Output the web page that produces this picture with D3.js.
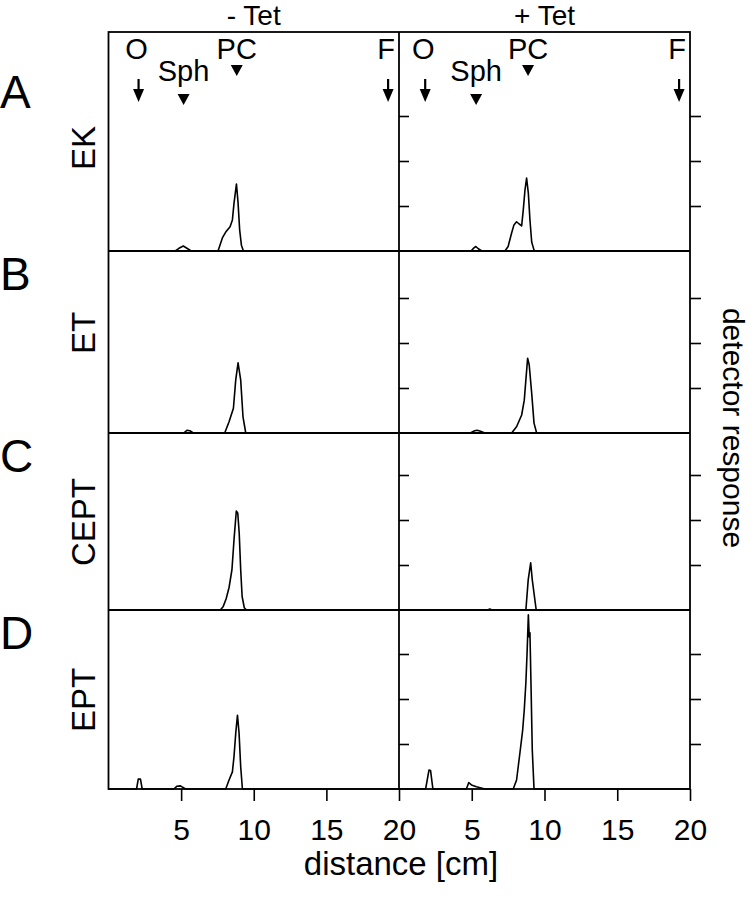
<!doctype html>
<html>
<head>
<meta charset="utf-8">
<script src="https://cdnjs.cloudflare.com/ajax/libs/d3/7.8.5/d3.min.js"></script>
<style>
  body { margin: 0; background: #fff; }
  text { font-family: "Liberation Sans", Arial, Helvetica, sans-serif; fill: #000; }
</style>
</head>
<body>
<svg id="chart" width="752" height="900"></svg>
<script>
// tick labels / names
var distanceTicks = [5, 10, 15, 20];
var responseTicks = [1, 2, 3];
var columnTitles = ["- Tet", "+ Tet"];
var rowLetters = ["A", "B", "C", "D"];
var rowNames = ["EK", "ET", "CEPT", "EPT"];
var markerNames = ["O", "Sph", "PC", "F"];
var markerKinds = ["arrow", "tri", "tri", "arrow"];
var markerMinus = [2.07, 5.17, 8.83, 19.25];
var markerPlus = [1.8, 5.3, 8.87, 19.25];

// traces: [distance cm, detector response]
var ekMinus = [[0,0],[4.6,0],[4.85,0.06],[5.15,0.11],[5.45,0.05],[5.7,0],[7.54,0],[7.84,0.29],[8.07,0.42],
  [8.37,0.54],[8.53,0.69],[8.64,1.06],[8.81,1.49],[8.92,1.07],[9.03,0.47],[9.15,0.13],[9.29,0],[20,0]];
var ekPlus = [[0,0],[4.95,0],[5.15,0.07],[5.28,0.1],[5.45,0.05],[5.7,0],[7.28,0],[7.5,0.1],[7.74,0.4],[7.9,0.58],
  [8.08,0.65],[8.26,0.6],[8.43,0.56],[8.54,0.91],[8.66,1.36],[8.77,1.62],[8.89,1.28],[9.0,0.69],[9.12,0.2],
  [9.28,0.02],[9.4,0],[20,0]];
var etMinus = [[0,0],[5.17,0],[5.4,0.06],[5.6,0.05],[5.84,0],[8.0,0],[8.3,0.25],[8.6,0.55],[8.76,1.18],
  [8.92,1.56],[9.1,1.18],[9.26,0.36],[9.45,0],[20,0]];
var etPlus = [[0,0],[4.9,0],[5.2,0.05],[5.37,0.06],[5.6,0.04],[5.9,0],[7.74,0],[8.08,0.14],[8.43,0.4],
  [8.61,0.73],[8.72,1.18],[8.84,1.66],[8.95,1.51],[9.12,0.88],[9.28,0.22],[9.46,0],[20,0]];
var ceptMinus = [[0,0],[7.7,0],[7.9,0.08],[8.1,0.25],[8.3,0.5],[8.5,0.9],[8.65,1.6],[8.8,2.2],[8.9,2.15],
  [9.0,1.7],[9.1,0.9],[9.2,0.3],[9.35,0.05],[9.5,0],[20,0]];
var ceptPlus = [[0,0],[6.1,0],[6.24,0.02],[6.4,0],[8.72,0],[8.88,0.67],[9.05,1.05],[9.16,0.67],[9.43,0],[20,0]];
var eptMinus = [[0,0],[1.93,0],[2.05,0.22],[2.2,0.22],[2.32,0],[4.5,0],[4.7,0.06],[4.95,0.07],[5.31,0],
  [8.07,0],[8.3,0.2],[8.53,0.38],[8.64,0.72],[8.76,1.24],[8.88,1.64],[8.99,1.24],[9.1,0.5],[9.22,0],[20,0]];
var eptPlus = [[0,0],[1.83,0],[2.06,0.42],[2.17,0.41],[2.33,0],[4.63,0],[4.79,0.14],[4.98,0.09],[5.32,0.05],
  [5.9,0],[7.85,0],[8.08,0.2],[8.31,0.8],[8.5,1.31],[8.61,1.76],[8.72,2.36],[8.81,3.09],[8.89,3.87],
  [8.95,3.38],[9.0,3.47],[9.07,2.36],[9.16,0.87],[9.28,0],[20,0]];

var traces = [[ekMinus, ekPlus], [etMinus, etPlus], [ceptMinus, ceptPlus], [eptMinus, eptPlus]];

var svg = d3.select("#chart");

// layout
var rowTop = [32, 251, 433, 610];
var rowBottom = [251, 433, 610, 789];
var pxPerUnit = 45;
var xScales = [
  d3.scaleLinear().domain([0, 20]).range([108.5, 399]),
  d3.scaleLinear().domain([0, 20]).range([399, 690])
];

// column titles
columnTitles.forEach(function(t, c) {
  svg.append("text")
    .attr("x", (xScales[c].range()[0] + xScales[c].range()[1]) / 2)
    .attr("y", 25)
    .attr("text-anchor", "middle")
    .style("font-size", "28px")
    .text(t);
});

rowNames.forEach(function(name, r) {
  var h = rowBottom[r] - rowTop[r];
  var y = d3.scaleLinear().domain([0, h / pxPerUnit]).range([rowBottom[r], rowTop[r]]);

  for (var c = 0; c < 2; c++) {
    var x = xScales[c];
    var line = d3.line()
      .x(function(d) { return x(d[0]); })
      .y(function(d) { return y(d[1]); });

    svg.append("path")
      .datum(traces[r][c])
      .attr("d", line)
      .attr("fill", "none")
      .attr("stroke", "#000")
      .attr("stroke-width", 1.6)
      .attr("stroke-linejoin", "round");
  }

  // y ticks on the +Tet panel: inward on the left, outward on the right
  var g = svg.append("g");
  g.append("g")
    .attr("transform", "translate(" + xScales[1].range()[0] + ",0)")
    .call(d3.axisRight(y).tickValues(responseTicks).tickSize(10).tickFormat(""));
  g.append("g")
    .attr("transform", "translate(" + xScales[1].range()[1] + ",0)")
    .call(d3.axisRight(y).tickValues(responseTicks).tickSize(11).tickFormat(""));
  g.selectAll(".domain").remove();
  g.selectAll("line").attr("stroke", "#000").attr("stroke-width", 1.6);

  // row letter and name
  svg.append("text")
    .attr("x", 0)
    .attr("y", rowTop[r] + (r === 0 ? 76 : 39))
    .style("font-size", "46px")
    .text(rowLetters[r]);
  var cy = [148, 333, 522, 700][r];
  svg.append("text")
    .attr("transform", "translate(95," + cy + ") rotate(-90)")
    .attr("text-anchor", "middle")
    .style("font-size", "33px")
    .text(name);
});

// markers in row A
[markerMinus, markerPlus].forEach(function(pos, c) {
  var x = xScales[c];
  markerNames.forEach(function(m, i) {
    var px = x(pos[i]);
    if (markerKinds[i] === "arrow") {
      svg.append("text").attr("x", px - 2).attr("y", 59).attr("text-anchor", "middle")
        .style("font-size", "29px").text(m);
      svg.append("line").attr("x1", px).attr("x2", px).attr("y1", 79).attr("y2", 92)
        .attr("stroke", "#000").attr("stroke-width", 2.2);
      svg.append("path")
        .attr("d", "M" + (px - 5.5) + ",89L" + (px + 5.5) + ",89L" + px + ",102Z");
    } else {
      var ty = m === "PC" ? 59 : 81;
      var tt = m === "PC" ? 65 : 94;
      svg.append("text").attr("x", px).attr("y", ty).attr("text-anchor", "middle")
        .style("font-size", "29px").text(m);
      svg.append("path")
        .attr("d", "M" + (px - 6) + "," + tt + "L" + (px + 6) + "," + tt + "L" + px + "," + (tt + 11) + "Z");
    }
  });
});

// frames and row separators
svg.append("rect")
  .attr("x", 108.5).attr("y", rowTop[0])
  .attr("width", 690 - 108.5).attr("height", rowBottom[3] - rowTop[0])
  .attr("fill", "none").attr("stroke", "#000").attr("stroke-width", 1.8);
svg.append("line")
  .attr("x1", 399).attr("x2", 399).attr("y1", rowTop[0]).attr("y2", rowBottom[3])
  .attr("stroke", "#000").attr("stroke-width", 1.8);
rowBottom.slice(0, 3).forEach(function(yy) {
  svg.append("line")
    .attr("x1", 108.5).attr("x2", 690).attr("y1", yy).attr("y2", yy)
    .attr("stroke", "#000").attr("stroke-width", 1.8);
});

// x axes
xScales.forEach(function(x) {
  var ax = svg.append("g")
    .attr("transform", "translate(0," + rowBottom[3] + ")")
    .call(d3.axisBottom(x).tickValues(distanceTicks).tickSize(12).tickPadding(18));
  ax.select(".domain").remove();
  ax.selectAll("line").attr("stroke", "#000").attr("stroke-width", 1.6);
  ax.selectAll("text").style("font-size", "30px")
    .attr("font-family", null).attr("fill", "#000");
});

svg.append("text")
  .attr("x", 401).attr("y", 875)
  .attr("text-anchor", "middle")
  .style("font-size", "33px")
  .text("distance [cm]");

svg.append("text")
  .attr("transform", "translate(723,428) rotate(90)")
  .attr("text-anchor", "middle")
  .style("font-size", "30px")
  .text("detector response");
</script>
</body>
</html>
